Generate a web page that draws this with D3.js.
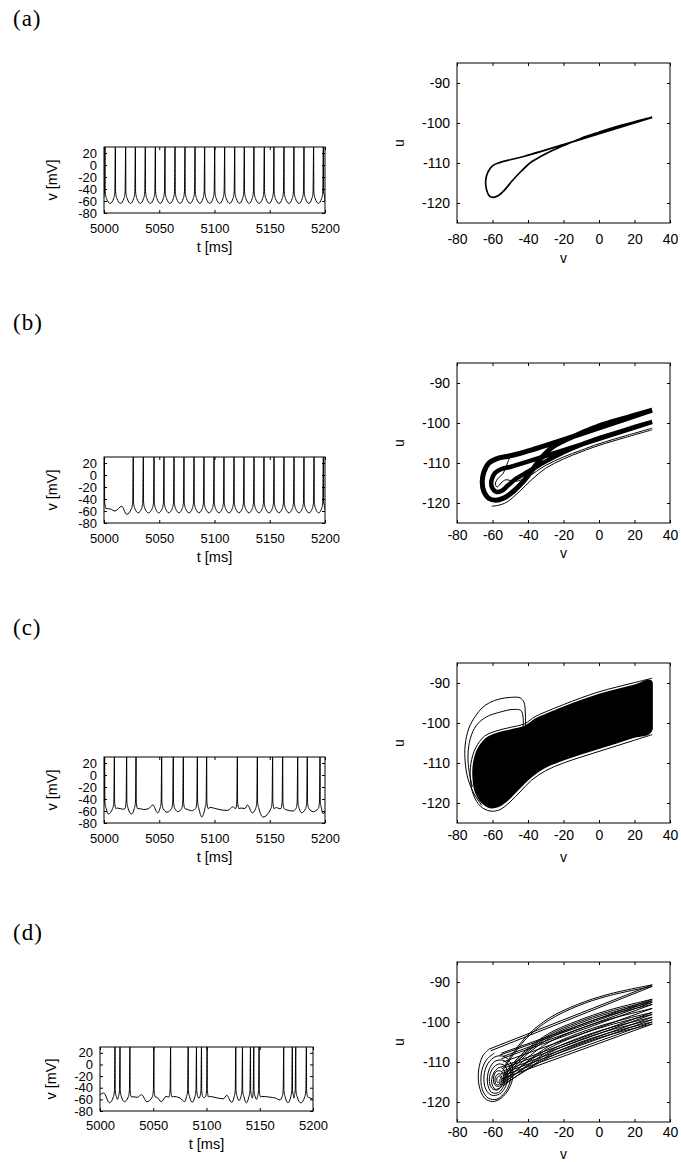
<!DOCTYPE html>
<html>
<head>
<meta charset="utf-8">
<script src="https://cdn.jsdelivr.net/npm/d3@7"></script>
<style>
    body { margin: 0; background: #fff; }
    svg text { font-family: "Liberation Sans", Arial, Helvetica, sans-serif; fill: #000; }
    .panel-label { font-family: "Liberation Serif", "Times New Roman", serif; font-size: 23px; letter-spacing: 1px; }
</style>
</head>
<body>
<svg id="fig" width="681" height="1162"></svg>
<script>

// ---------- data ----------
const panelLabels = ["(a)", "(b)", "(c)", "(d)"];

const timeTicks = [5000, 5050, 5100, 5150, 5200];
const vTicks = [-80, -60, -40, -20, 0, 20];
const phaseVTicks = [-80, -60, -40, -20, 0, 20, 40];
const phaseUTicks = [-120, -110, -100, -90];

const vPeak = 30;     // spike cut-off (mV)
const vReset = -45;   // value right after a spike
const vKnee = -45;    // where the upstroke leaves the slow trace
const vArm = -56;     // flank of the trough next to each spike

// spike times (ms) and sub-threshold key points [t, v]
const spikesA = [5000.9, 5010.3, 5019.6, 5028.4, 5037.4, 5046.5, 5055.2, 5064.3, 5073.3, 5082.4, 5091.1, 5100.2,
    5109.2, 5118.3, 5127.0, 5135.7, 5145.1, 5153.8, 5162.9, 5171.9, 5181.0, 5189.7, 5198.5];
const subA = [[5005.6, -64], [5015.0, -64], [5024.0, -64], [5032.9, -64], [5042.0, -64], [5050.9, -64],
    [5059.8, -64], [5068.8, -64], [5077.9, -64], [5086.8, -64], [5095.7, -64], [5104.7, -64], [5113.8, -64],
    [5122.7, -64], [5131.4, -64], [5140.4, -64], [5149.5, -64], [5158.4, -64], [5167.4, -64], [5176.5, -64],
    [5185.4, -64], [5194.1, -64], [5200, -62]];

const spikesB = [5000.4, 5026.5, 5035.6, 5045.3, 5054.3, 5063.4, 5072.4, 5081.5, 5090.5, 5099.6, 5108.6, 5117.7,
    5126.7, 5135.8, 5144.8, 5153.9, 5162.9, 5172.0, 5181.0, 5190.1, 5198.5];
const subB = [[5003, -56], [5006, -57], [5010, -60], [5016, -52], [5020.5, -65.5], [5031.0, -63], [5040.2, -63],
    [5049.5, -63], [5058.6, -63], [5067.9, -63], [5076.9, -63], [5086.0, -63], [5095.0, -63], [5104.1, -63],
    [5113.1, -63], [5122.2, -63], [5131.2, -63], [5140.3, -63], [5149.3, -63], [5158.4, -63], [5167.4, -63],
    [5176.5, -63], [5185.5, -63], [5194.3, -63], [5200, -58]];

const spikesC = [5000.6, 5009.4, 5020.5, 5029.0, 5052.2, 5062.7, 5071.8, 5084.5, 5092.9, 5120.7, 5138.8, 5152.6,
    5161.7, 5175.3, 5184.0, 5195.5];
const subC = [[5003.9, -65], [5012, -55], [5017, -57], [5024.8, -65], [5032, -56], [5036, -57.5], [5040.5, -56],
    [5044.1, -50], [5048.6, -63], [5057, -62], [5067, -61], [5075, -57], [5079, -59.5], [5088.5, -70],
    [5096, -54], [5100, -55.5], [5107, -58.5], [5112, -59], [5116.5, -53], [5124, -55], [5127.5, -56],
    [5129.8, -50], [5134.2, -63], [5144, -70], [5156, -54], [5158.5, -56], [5165, -58], [5171, -60],
    [5178.9, -63], [5189.3, -61], [5198, -64], [5200, -62]];

const spikesD = [5014.1, 5018.8, 5028.1, 5050.6, 5066.3, 5082.8, 5090.6, 5095.3, 5100.6, 5127.5, 5133.8, 5141.3,
    5144.4, 5149.4, 5172.5, 5180.6, 5183.8, 5193.8];
const subD = [[5000, -52], [5003.5, -49], [5009, -66], [5016.5, -60], [5023, -64], [5031, -55.5], [5035, -56.5],
    [5039, -52], [5044, -64], [5053, -56], [5057.5, -64], [5062, -55], [5069, -55], [5075, -57.5], [5079.5, -64],
    [5086.5, -65], [5093, -58], [5098, -57], [5103, -55], [5110, -57.5], [5116, -59], [5119, -53], [5123.5, -65],
    [5130.5, -62], [5137.5, -66], [5143, -58], [5147, -60], [5152, -55], [5159, -56], [5165, -58], [5169, -61],
    [5176.5, -66], [5182.2, -58], [5188.5, -66], [5196.5, -57], [5200, -60]];

// phase portraits, points [v, u]
const loopA = [[30, -98.6], [-42, -108.3], [-50, -109.2], [-56, -109.9], [-60, -110.7], [-62.6, -112.3],
    [-63.8, -114.3], [-63.4, -116.6], [-61.8, -118.2], [-59.6, -118.6], [-56.9, -118.2], [-53.5, -116.9],
    [-49, -114.5], [-43.7, -112], [-38, -109.7], [-33.4, -108.5], [-26, -106.8], [-20.2, -105.7], [-10, -103.8],
    [0, -102.3], [10, -100.9], [20, -99.7], [30, -98.6]];

const outerB = [[30, -96.8], [-42, -107.3], [-50, -108.2], [-57.5, -108.9], [-62, -110], [-64.8, -112.2],
    [-65.8, -114.7], [-64.8, -117.2], [-62.2, -118.8], [-58, -119.3], [-53, -118.6], [-48, -117], [-43, -114.8],
    [-38, -112], [-33, -109], [-27, -106.3], [-20, -104.5], [-10, -102.5], [0, -100.7], [15, -98.7], [30, -96.8]];
const innerB = [[30, -99.7], [-42, -109.9], [-50, -111], [-55, -111.5], [-58.6, -112.5], [-60.6, -114.4],
    [-60.2, -116.2], [-58, -117.2], [-55, -117], [-51.5, -115.7], [-47, -114], [-40, -112.2], [-30, -109.6],
    [-20, -107.3], [-10, -105.4], [0, -103.8], [15, -101.7], [30, -99.7]];
const thinB = [[-60.5, -120.8], [-57, -120.6], [-52, -119.8], [-45, -117.2], [-38, -114.2], [-30, -111.3],
    [-20, -109], [-10, -107.2], [0, -105.6], [15, -103.6], [30, -101.7]];
const transB = [[-50.5, -108.8], [-52, -110.5], [-54, -112.6], [-57.2, -114], [-58.4, -115.3], [-57.4, -116],
    [-55.2, -115], [-52.5, -114.2], [-47, -114.6], [-40, -113.4], [-30, -110.6], [-20, -108.5], [-10, -106.8],
    [0, -105.2], [15, -103.2], [30, -101.3]];

const coreC = [[29.5, -89.3], [20, -90.4], [10, -91.5], [0, -92.7], [-10, -94.2], [-20, -95.9], [-30, -97.7],
    [-36, -98.9], [-42, -100.7], [-50, -101.6], [-58, -102.5], [-64, -103.8], [-68.5, -106.4], [-71, -110],
    [-71.3, -113.8], [-69.8, -117.5], [-66.2, -120], [-61.5, -121.3], [-56.5, -121], [-50.5, -119.1],
    [-44.5, -116.4], [-38.5, -113.8], [-30.5, -111.3], [-20, -109.4], [-10, -107.9], [0, -106.5], [10, -105.1],
    [20, -103.7], [29.5, -102.3]];
const edgeC = [[30, -88.8], [20, -89.9], [10, -91.0], [0, -92.2], [-10, -93.7], [-20, -95.4], [-30, -97.2],
    [-36, -98.4], [-42, -100.2], [-50, -101.1], [-58, -102.0], [-64.5, -103.3], [-69.5, -106.2], [-72.2, -110.2],
    [-72.4, -114.3], [-70.7, -118], [-66.8, -120.8], [-61.5, -122], [-56, -121.7], [-50, -119.7], [-44, -117.0],
    [-38, -114.3], [-30, -111.9], [-20, -110.0], [-10, -108.5], [0, -107.1], [10, -105.7], [20, -104.3], [30, -102.9]];
const transC1 = [[-41.5, -101.5], [-41.5, -97.5], [-42.3, -94.8], [-44.5, -93.7], [-50, -93.6], [-56, -94.0],
    [-61.6, -94.9], [-65.8, -96.2], [-69.5, -98.2], [-73.3, -101.3], [-75.4, -105.5], [-75.4, -109.7],
    [-73.9, -113.8], [-70.5, -117.6], [-66, -120.6]];
const transC2 = [[-42.8, -101.5], [-42.8, -98.5], [-44, -96.9], [-48.4, -96.6], [-55.9, -97.3], [-63.5, -98.5],
    [-69.1, -100.6], [-72.5, -103.9], [-73.8, -108], [-73.2, -112.1], [-71.3, -116]];

// (d): rising branches sampled at riseV, one row per spike cycle; reset lines end at resetD
const riseV = [-54, -48, -40, -28, -12, 5, 30];
const riseD = [
    [-111.5, -107.5, -103.2, -99.0, -95.6, -93.1, -90.7],
    [-112.0, -108.0, -103.7, -99.5, -96.0, -93.5, -91.1],
    [-113.3, -110.1, -106.6, -102.8, -99.7, -97.1, -94.3],
    [-114.0, -110.6, -107.0, -103.2, -100.1, -97.5, -94.7],
    [-113.6, -110.8, -107.4, -103.6, -100.5, -97.9, -95.1],
    [-114.6, -111.4, -107.9, -104.1, -101.0, -98.4, -95.6],
    [-114.2, -111.8, -108.8, -105.0, -101.9, -99.4, -96.6],
    [-115.0, -112.6, -109.7, -106.0, -102.9, -100.4, -97.6],
    [-114.6, -112.6, -110.0, -106.5, -103.4, -100.9, -98.1],
    [-115.5, -113.3, -110.7, -107.2, -104.1, -101.6, -98.8],
    [-115.1, -113.3, -111.0, -107.7, -104.7, -102.2, -99.4],
    [-116.0, -114.0, -111.6, -108.3, -105.3, -102.8, -100.0],
    [-115.6, -114.0, -111.8, -108.8, -105.8, -103.3, -100.5]
];
const resetD = [[-62, -106.8], [-61, -107.2], [-55, -107.8], [-56, -108.3], [-54, -108.6], [-55, -109.2],
    [-54, -110], [-55, -111.2], [-53, -111.4], [-54.5, -112.3], [-55.5, -113], [-53.5, -113.3], [-55, -114.2]];
const spiralD1 = [[-62, -106.8], [-65.5, -108.5], [-67.8, -112], [-67.5, -116], [-64.5, -119], [-60, -119.9],
    [-55, -119], [-50.5, -116.5], [-48.5, -113.5], [-49.5, -110.5], [-53, -108.7], [-58, -108.6], [-62.5, -110.3],
    [-64.8, -113.5], [-63.8, -116.8], [-60.5, -118.3], [-56, -118], [-52.5, -116], [-51.3, -113.3], [-53, -111],
    [-56.5, -110.5], [-60, -111.7], [-61.8, -114.2], [-60.5, -116.5], [-57.3, -117], [-54.5, -115.8],
    [-53.7, -113.7], [-55.2, -112.3], [-58, -112.4], [-59.5, -114.3], [-58.3, -115.9], [-56, -116], [-55, -114.7],
    [-56, -113.5], [-57.5, -114], [-57.2, -115.1], [-56.3, -115]];
const spiralD2 = [[-59, -107.8], [-63.5, -109.5], [-66.3, -112.8], [-65.8, -116.8], [-62.5, -119], [-57.5, -119.3],
    [-52.5, -117.3], [-49.8, -114.2], [-50.5, -111], [-54, -109.6], [-58.5, -109.8], [-62, -112], [-62.8, -115.3],
    [-60.5, -117.6], [-56.5, -117.6], [-53.3, -115.5], [-52.8, -112.8], [-55.5, -111.3], [-59, -112.5],
    [-60.5, -115], [-58.5, -116.8], [-55.5, -116.3], [-54.5, -114.3], [-56.2, -112.9], [-58.4, -113.8],
    [-58, -115.6], [-56.2, -115.6], [-55.9, -114.3]];

// ---------- layout ----------
const tsBoxes = [
    { id: "ta", x: 104, y: 147, w: 221, h: 66, tick: 20, title: 39, ylab: 57 },
    { id: "tb", x: 104, y: 457, w: 221, h: 66, tick: 20, title: 39, ylab: 57 },
    { id: "tc", x: 104, y: 757, w: 221, h: 66, tick: 20, title: 39, ylab: 57 },
    { id: "td", x: 100, y: 1047, w: 213, h: 64, tick: 19, title: 38, ylab: 55.5 }
];
const phBoxes = [
    { id: "pa", x: 457, y: 63, w: 213, h: 160, tick: 21, title: 40 },
    { id: "pb", x: 457, y: 363, w: 213, h: 160, tick: 17, title: 35 },
    { id: "pc", x: 457, y: 663, w: 213, h: 160, tick: 17, title: 39 },
    { id: "pd", x: 457, y: 962, w: 213, h: 160, tick: 15, title: 37 }
];
const labelY = [26, 330, 635, 940];

const svg = d3.select("#fig");
const defs = svg.append("defs");

// box with gnuplot-style inward ticks on all four sides
function frame(g, box, x, y, xTicks, yTicks, fontSize) {
    const fmt = d => String(d);
    const style = a => a.attr("font-family", null).attr("font-size", fontSize + "px")
        .call(s => s.select(".domain").remove())
        .call(s => s.selectAll("line").attr("stroke", "#000"));

    g.append("g").attr("transform", `translate(0,${box.y + box.h})`)
        .call(d3.axisBottom(x).tickValues(xTicks).tickSize(-3).tickFormat(fmt))
        .call(style)
        .call(a => a.selectAll("text").attr("y", box.tick).attr("dy", null));

    g.append("g").attr("transform", `translate(0,${box.y})`)
        .call(d3.axisTop(x).tickValues(xTicks).tickSize(-3).tickFormat(""))
        .call(style);

    g.append("g").attr("transform", `translate(${box.x},0)`)
        .call(d3.axisLeft(y).tickValues(yTicks).tickSize(-3).tickPadding(7).tickFormat(fmt))
        .call(style);

    g.append("g").attr("transform", `translate(${box.x + box.w},0)`)
        .call(d3.axisRight(y).tickValues(yTicks).tickSize(-3).tickFormat(""))
        .call(style);

    g.append("rect")
        .attr("x", box.x).attr("y", box.y)
        .attr("width", box.w).attr("height", box.h)
        .attr("fill", "none").attr("stroke", "#000").attr("stroke-width", 1);
}

function drawTrace(box, spikes, sub) {
    const g = svg.append("g");
    const x = d3.scaleLinear().domain([5000, 5200]).range([box.x, box.x + box.w]);
    const y = d3.scaleLinear().domain([-80, 30]).range([box.y + box.h, box.y]);

    defs.append("clipPath").attr("id", "clip-" + box.id)
        .append("rect").attr("x", box.x).attr("y", box.y - 1).attr("width", box.w).attr("height", box.h + 1);

    // each spike: trough flank, upstroke knee, peak, reset, trough flank
    const pts = sub.concat(spikes.flatMap(ts => [
            [ts - 1.6, vArm], [ts - 0.5, vKnee], [ts, vPeak], [ts + 0.2, vReset], [ts + 1.4, vArm]
        ]))
        .sort((a, b) => a[0] - b[0]);

    g.append("path")
        .datum(pts)
        .attr("clip-path", `url(#clip-${box.id})`)
        .attr("fill", "none")
        .attr("stroke", "#000")
        .attr("stroke-width", 1)
        .attr("d", d3.line().x(d => x(d[0])).y(d => y(d[1])).curve(d3.curveMonotoneX));

    frame(g, box, x, y, timeTicks, vTicks, 13);

    g.append("text")
        .attr("x", box.x + box.w / 2).attr("y", box.y + box.h + box.title)
        .attr("text-anchor", "middle").style("font-size", "14.5px")
        .text("t [ms]");

    g.append("text")
        .attr("transform", `translate(${box.ylab},${box.y + box.h / 2}) rotate(-90)`)
        .attr("text-anchor", "middle").style("font-size", "14.5px")
        .text("v [mV]");
}

function drawPhase(box) {
    const g = svg.append("g");
    const x = d3.scaleLinear().domain([-80, 40]).range([box.x, box.x + box.w]);
    const y = d3.scaleLinear().domain([-125, -85]).range([box.y + box.h, box.y]);

    // trajectories are cut at the spike peak v = 30
    defs.append("clipPath").attr("id", "clip-" + box.id)
        .append("rect").attr("x", box.x).attr("y", box.y)
        .attr("width", x(30) + 0.6 - box.x).attr("height", box.h);

    const layer = g.append("g").attr("clip-path", `url(#clip-${box.id})`);
    const line = curve => d3.line().x(d => x(d[0])).y(d => y(d[1])).curve(curve);

    const draw = (pts, width, curve) => layer.append("path")
        .datum(pts)
        .attr("fill", "none")
        .attr("stroke", "#000")
        .attr("stroke-width", width)
        .attr("stroke-linejoin", "round")
        .attr("d", line(curve || d3.curveCatmullRom.alpha(0.5)));

    frame(g, box, x, y, phaseVTicks, phaseUTicks, 14);

    g.append("text")
        .attr("x", box.x + box.w / 2).attr("y", box.y + box.h + box.title)
        .attr("text-anchor", "middle").style("font-size", "14px")
        .text("v");

    g.append("text")
        .attr("transform", `translate(404,${box.y + box.h / 2}) rotate(-90)`)
        .attr("text-anchor", "middle").style("font-size", "14px")
        .text("u");

    return { layer, draw, line };
}

// ---------- panel labels ----------
panelLabels.forEach((lab, i) => {
    svg.append("text").attr("class", "panel-label")
        .attr("x", 13).attr("y", labelY[i]).text(lab);
});

// ---------- time series ----------
drawTrace(tsBoxes[0], spikesA, subA);
drawTrace(tsBoxes[1], spikesB, subB);
drawTrace(tsBoxes[2], spikesC, subC);
drawTrace(tsBoxes[3], spikesD, subD);

// ---------- phase portraits ----------
let pa = drawPhase(phBoxes[0]);
pa.draw(loopA, 1.7);

let pb = drawPhase(phBoxes[1]);
pb.draw(outerB, 5);
pb.draw(innerB, 4.5);
pb.draw(thinB, 1);
pb.draw(transB, 1);

let pc = drawPhase(phBoxes[2]);
pc.layer.append("path")
    .datum(coreC)
    .attr("fill", "#000")
    .attr("stroke", "none")
    .attr("d", pc.line(d3.curveCatmullRomClosed.alpha(0.5)));
pc.draw(edgeC, 1);
pc.draw(transC1, 1);
pc.draw(transC2, 1);

let pd = drawPhase(phBoxes[3]);
pd.draw(spiralD1, 1);
pd.draw(spiralD2, 1);
riseD.forEach((row, i) => {
    pd.draw(riseV.map((v, j) => [v, row[j]]), 1);
    pd.draw([[30, row[row.length - 1]], resetD[i]], 1, d3.curveLinear);
});

</script>
</body>
</html>
